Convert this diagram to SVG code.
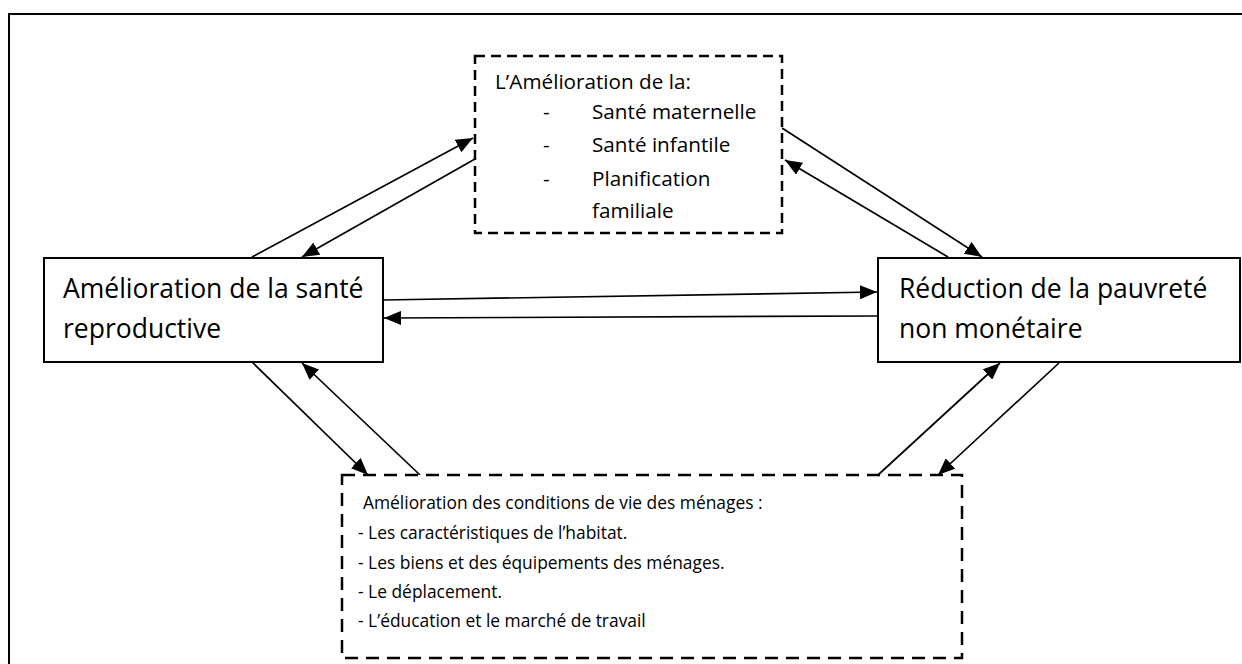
<svg xmlns="http://www.w3.org/2000/svg" width="1242" height="664" viewBox="0 0 1242 664">
<style>
.frame{fill:none;stroke:#000;stroke-width:2}
.box{fill:#fff;stroke:#000;stroke-width:2}
.dash1{fill:#fff;stroke:#000;stroke-width:2.5;stroke-dasharray:10 6}
.dash2{fill:#fff;stroke:#000;stroke-width:2.5;stroke-dasharray:13 8}
.t{font-family:"Open Sans","Liberation Sans",sans-serif;fill:#000}
.big{font-size:26.5px}
.mid{font-size:20.7px}
.small{font-size:17.4px}
.arr{stroke:#000;stroke-width:1.7;fill:none;marker-end:url(#ah)}
</style>
<defs>
<marker id="ah" markerUnits="userSpaceOnUse" markerWidth="18" markerHeight="14" refX="17" refY="7" orient="auto">
<path d="M0,0 L17,7 L0,14 z" fill="#000"/>
</marker>
</defs>
<rect x="0" y="0" width="1242" height="664" fill="#fff"/>
<rect class="frame" x="9" y="14" width="1260" height="700"/>

<g id="connectors">
<line class="arr" x1="252" y1="257" x2="473" y2="138"/>
<line class="arr" x1="475" y1="159" x2="302" y2="257"/>
<line class="arr" x1="782" y1="128" x2="982" y2="257"/>
<line class="arr" x1="948" y1="257" x2="785" y2="160"/>
<line class="arr" x1="383" y1="300" x2="877" y2="292"/>
<line class="arr" x1="878" y1="316" x2="384" y2="318"/>
<line class="arr" x1="252" y1="362" x2="368" y2="475"/>
<line class="arr" x1="420" y1="475" x2="302" y2="363"/>
<line class="arr" x1="878" y1="475" x2="1000" y2="363"/>
<line class="arr" x1="1059" y1="363" x2="938" y2="475"/>
</g>

<g id="node-top">
<rect class="dash1" x="475" y="56" width="307" height="177"/>
<text class="t mid" x="495" y="89">L’Amélioration de la:</text>
<text class="t mid" x="543" y="119">-</text>
<text class="t mid" x="592" y="119">Santé maternelle</text>
<text class="t mid" x="543" y="152">-</text>
<text class="t mid" x="592" y="152">Santé infantile</text>
<text class="t mid" x="543" y="186">-</text>
<text class="t mid" x="592" y="186">Planification</text>
<text class="t mid" x="592" y="218">familiale</text>
</g>

<g id="node-left">
<rect class="box" x="44" y="258" width="339" height="104"/>
<text class="t big" x="63" y="298">Amélioration de la santé</text>
<text class="t big" x="63" y="338">reproductive</text>
</g>

<g id="node-right">
<rect class="box" x="878" y="258" width="362" height="104"/>
<text class="t big" x="899" y="298">Réduction de la pauvreté</text>
<text class="t big" x="899" y="338">non monétaire</text>
</g>

<g id="node-bottom">
<rect class="dash2" x="342" y="475" width="620" height="183"/>
<text class="t small" x="363" y="509">Amélioration des conditions de vie des ménages :</text>
<text class="t small" x="358" y="539">- Les caractéristiques de l’habitat.</text>
<text class="t small" x="358" y="569">- Les biens et des équipements des ménages.</text>
<text class="t small" x="358" y="598">- Le déplacement.</text>
<text class="t small" x="358" y="627">- L’éducation et le marché de travail</text>
</g>
</svg>
